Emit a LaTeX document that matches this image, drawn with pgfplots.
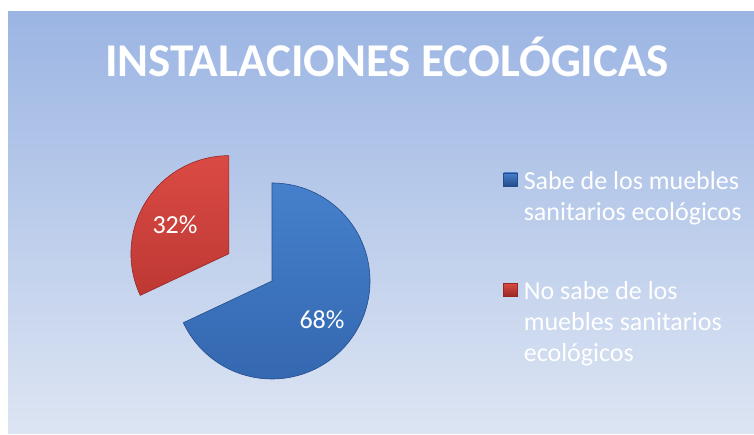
\documentclass[border=0pt]{standalone}
\usepackage{pgfplots}
\pgfplotsset{compat=1.18}
\usepackage{pgfplotstable}
\usepackage{fontspec}
\setmainfont{Carlito}
\definecolor{bgtop}{RGB}{155,181,227}
\definecolor{bgbot}{RGB}{221,229,243}
\definecolor{pieblueL}{RGB}{70,128,204}
\definecolor{pieblueD}{RGB}{52,104,176}
\definecolor{pieblueE}{RGB}{36,76,140}
\definecolor{pieredL}{RGB}{218,74,68}
\definecolor{pieredD}{RGB}{190,56,52}
\definecolor{pieredE}{RGB}{150,40,36}

\pgfplotstableread{
label value
Sabe 68
NoSabe 32
}\piedata
\pgfplotstablegetelem{0}{value}\of\piedata \let\va\pgfplotsretval
\pgfplotstablegetelem{1}{value}\of\piedata \let\vb\pgfplotsretval

\begin{document}
\begin{tikzpicture}[x=1pt,y=1pt]
\useasboundingbox (0,0) rectangle (754,435);
\fill[white] (0,0) rectangle (754,435);
\shade[top color=bgtop, bottom color=bgbot] (8,1) rectangle (754,423);
\node[text=white, font=\bfseries\fontsize{47}{56}\selectfont] at (387,378) {INSTALACIONES ECOLÓGICAS};
\begin{axis}[at={(0,0)}, anchor=south west, width=754pt, height=435pt,
  scale only axis, xmin=0, xmax=754, ymin=0, ymax=435, hide axis, clip=false,
  legend style={at={(axis cs:500,268)}, anchor=north west, draw=none, fill=none,
    text=white, font=\fontsize{26}{31}\selectfont,
    cells={anchor=west, align=left}, row sep=56pt}]
\addplot[draw=pieblueE, line width=0.6pt, top color=pieblueL, bottom color=pieblueD,
  domain={90-3.6*\va}:90, samples=150, variable=\t, area legend,
  legend image code/.code={\path (18pt,17pt); \fill[top color=pieblueL, bottom color=pieblueE] (0pt,10.5pt) rectangle (14pt,23.5pt);}]
  ({272+98*cos(t)}, {154+98*sin(t)}) -- (axis cs:272,154) -- cycle;
\addlegendentry{Sabe de los muebles\\sanitarios ecológicos}
\addplot[draw=pieredE, line width=0.6pt, top color=pieredL, bottom color=pieredD,
  domain=90:{90+3.6*\vb}, samples=80, variable=\t, area legend,
  legend image code/.code={\path (18pt,32pt); \fill[top color=pieredL, bottom color=pieredE] (0pt,26pt) rectangle (14pt,39pt);}]
  ({272+51*cos(90+1.8*\vb)+98*cos(t)}, {154+51*sin(90+1.8*\vb)+98*sin(t)})
  -- (axis cs:{272+51*cos(90+1.8*\vb)},{154+51*sin(90+1.8*\vb)}) -- cycle;
\addlegendentry{No sabe de los\\muebles sanitarios\\ecológicos}
\node[text=white, font=\fontsize{26}{31}\selectfont] at (axis cs:322,115) {68\%};
\node[text=white, font=\fontsize{26}{31}\selectfont] at (axis cs:175,210) {32\%};
\end{axis}
\end{tikzpicture}
\end{document}
